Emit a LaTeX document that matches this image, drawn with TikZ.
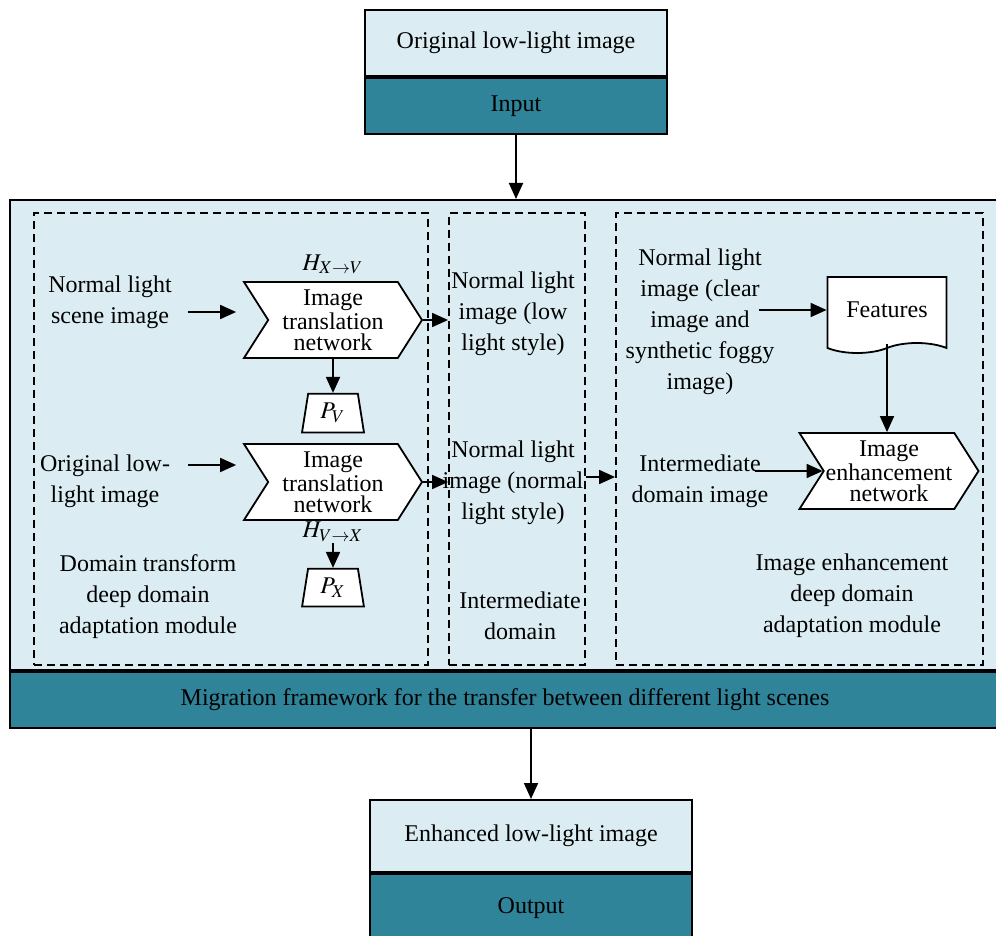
\documentclass[tikz,border=0pt]{standalone}
\usepackage{mathptmx}
\usepackage{fontspec}
\setmainfont{Liberation Serif}
\usetikzlibrary{arrows.meta,positioning,shapes.geometric,shapes.symbols}
\definecolor{paleblue}{RGB}{219,237,243}
\definecolor{tealband}{RGB}{47,132,153}

\begin{document}
\begin{tikzpicture}[
    x=0.5pt, y=-0.5pt,
    >={Triangle[length=8pt,width=7pt]},
    font=\fontsize{12}{15.5}\selectfont,
    lightbox/.style={draw, line width=1pt, fill=paleblue, minimum width=151pt, minimum height=33pt, inner sep=0pt},
    darkbox/.style={lightbox, fill=tealband, minimum height=28pt},
    module/.style={draw, dash pattern=on 4pt off 2.5pt, line width=0.9pt, minimum height=226pt, inner sep=0pt},
    txt/.style={align=center, inner sep=1pt},
    chevron/.style={draw, line width=0.9pt, fill=white, signal, signal from=west, signal to=east, signal pointer angle=115, minimum width=89pt, minimum height=38pt, align=center, inner sep=1pt, font=\fontsize{12}{10.6}\selectfont},
    probe/.style={draw, line width=0.9pt, fill=white, trapezium, trapezium left angle=81, trapezium right angle=81, minimum width=31pt, minimum height=18.5pt, inner sep=0pt},
    doc/.style={draw, line width=0.9pt, fill=white, tape, tape bend top=none, minimum width=59.5pt, minimum height=38pt},
    arrow/.style={->, line width=0.9pt}
  ]
    \useasboundingbox (0,0) rectangle (996,936);

    \node[lightbox] (orig) at (516,43) {Original low-light image};
    \node[darkbox, below=0pt of orig] (input) {Input};

    \node[lightbox, minimum width=495pt, minimum height=235pt] (frame) at (505,435) {};
    \node[darkbox, minimum width=495pt, below=0pt of frame] (band) {Migration framework for the transfer between different light scenes};

    \node[lightbox, minimum width=161pt, minimum height=36pt] (enh) at (531,836) {Enhanced low-light image};
    \node[darkbox, minimum width=161pt, minimum height=34pt, below=0pt of enh] (output) {Output};

    % the three modules
    \node[module, minimum width=197pt] (domain) at (231,439) {};
    \node[module, minimum width=68pt] (inter) at (517,439) {};
    \node[module, minimum width=183.5pt] (enhance) at (799.5,439) {};

    % domain transform module
    \node[txt] (scene) at (110,302) {Normal light\\scene image};
    \node[chevron] (trans1) at (333,320) {Image\\translation\\network};
    \node[above=0pt of trans1] (hxv) {$H_{X\to V}$};
    \node[probe, below=17pt of trans1] (pv) {$P_V$};
    \node[txt] (lowin) at (105,481) {Original low-\\light image};
    \node[chevron] (trans2) at (333,482) {Image\\translation\\network};
    \node[probe, below=23.5pt of trans2] (px) {$P_X$};
    \node[txt] (domaintxt) at (148,597) {Domain transform\\deep domain\\adaptation module};

    % intermediate domain
    \node[txt] (lowstyle) at (513,314) {Normal light\\image (low\\light style)};
    \node[txt] (normstyle) at (513,483) {Normal light\\image (normal\\light style)};
    \node[txt] (intertxt) at (520,616) {Intermediate\\domain};

    % image enhancement module
    \node[txt] (clear) at (700,322) {Normal light\\image (clear\\image and\\synthetic foggy\\image)};
    \node[doc] (feat) at (887,310) {Features};
    \node[chevron] (enhnet) at (889,471) {Image\\enhancement\\network};
    \node[txt] (intimg) at (700,481) {Intermediate\\domain image};
    \node[txt] (enhtxt) at (852,596) {Image enhancement\\deep domain\\adaptation module};

    \draw[arrow] (input) -- (input |- frame.north);
    \draw[arrow] (band.south -| enh.north) -- (enh);
    \draw[arrow, shorten <=7pt, shorten >=15.5pt] ([yshift=-5pt]scene.east) -- ([yshift=-5pt]scene.east -| trans1.west);
    \draw[arrow, shorten <=8pt, shorten >=15.5pt] ([yshift=8pt]lowin.east) -- ([yshift=8pt]lowin.east -| trans2.west);
    \draw[arrow] (trans1) -- (pv);
    \draw[arrow] (trans2) -- (px);
    \node[fill=paleblue, inner sep=0.5pt, below=0pt of trans2] (hvx) {$H_{V\to X}$};
    \draw[arrow] (trans1.east) -- (trans1.east -| inter.west);
    \draw[arrow] (trans2.east) -- (trans2.east -| inter.west);
    \draw[arrow] ([yshift=3pt]normstyle.east -| inter.east) -- ([yshift=3pt]normstyle.east -| enhance.west);
    \draw[arrow] ([xshift=-34pt]feat.west) -- (feat.west);
    \draw[arrow] ([xshift=-34pt]enhnet.west) -- (enhnet.west);
    \draw[arrow] (feat.south) -- (feat.south |- enhnet.north);
  \end{tikzpicture}
\end{document}
